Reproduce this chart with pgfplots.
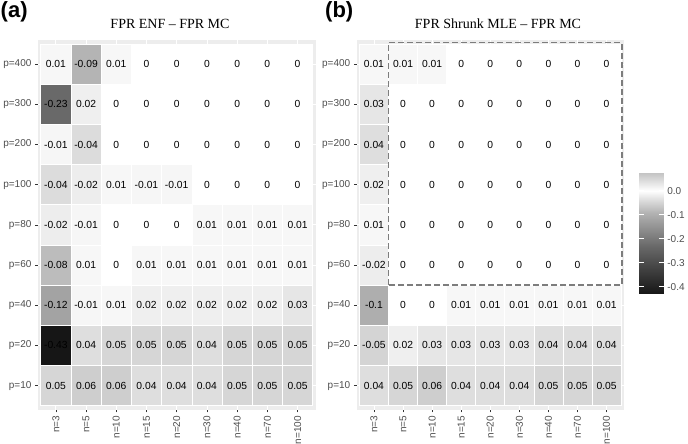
\documentclass[border=0pt]{standalone}
\usepackage{fontspec}
\setmainfont{Liberation Sans}
\newfontfamily\titlefont{Liberation Serif}
\usepackage{pgfplots}
\usepackage{pgfplotstable}
\pgfplotsset{compat=1.18}
\definecolor{panelbg}{RGB}{237,237,237}
\definecolor{ticktext}{RGB}{77,77,77}
\definecolor{tickline}{RGB}{51,51,51}
\definecolor{boxdash}{RGB}{125,125,125}

% x: 0..8 = n=3..n=100, y: 0..8 = p=10..p=400
\pgfplotstableread[row sep=\\]{
x y v\\
0 0 0.05\\ 1 0 0.06\\ 2 0 0.06\\ 3 0 0.04\\ 4 0 0.04\\ 5 0 0.04\\ 6 0 0.05\\ 7 0 0.05\\ 8 0 0.05\\
0 1 -0.43\\ 1 1 0.04\\ 2 1 0.05\\ 3 1 0.05\\ 4 1 0.05\\ 5 1 0.04\\ 6 1 0.05\\ 7 1 0.05\\ 8 1 0.05\\
0 2 -0.12\\ 1 2 -0.01\\ 2 2 0.01\\ 3 2 0.02\\ 4 2 0.02\\ 5 2 0.02\\ 6 2 0.02\\ 7 2 0.02\\ 8 2 0.03\\
0 3 -0.08\\ 1 3 0.01\\ 2 3 0\\ 3 3 0.01\\ 4 3 0.01\\ 5 3 0.01\\ 6 3 0.01\\ 7 3 0.01\\ 8 3 0.01\\
0 4 -0.02\\ 1 4 -0.01\\ 2 4 0\\ 3 4 0\\ 4 4 0\\ 5 4 0.01\\ 6 4 0.01\\ 7 4 0.01\\ 8 4 0.01\\
0 5 -0.04\\ 1 5 -0.02\\ 2 5 0.01\\ 3 5 -0.01\\ 4 5 -0.01\\ 5 5 0\\ 6 5 0\\ 7 5 0\\ 8 5 0\\
0 6 -0.01\\ 1 6 -0.04\\ 2 6 0\\ 3 6 0\\ 4 6 0\\ 5 6 0\\ 6 6 0\\ 7 6 0\\ 8 6 0\\
0 7 -0.23\\ 1 7 0.02\\ 2 7 0\\ 3 7 0\\ 4 7 0\\ 5 7 0\\ 6 7 0\\ 7 7 0\\ 8 7 0\\
0 8 0.01\\ 1 8 -0.09\\ 2 8 0.01\\ 3 8 0\\ 4 8 0\\ 5 8 0\\ 6 8 0\\ 7 8 0\\ 8 8 0\\
}\enfdiff

\pgfplotstableread[row sep=\\]{
x y v\\
0 0 0.04\\ 1 0 0.05\\ 2 0 0.06\\ 3 0 0.04\\ 4 0 0.04\\ 5 0 0.04\\ 6 0 0.05\\ 7 0 0.05\\ 8 0 0.05\\
0 1 -0.05\\ 1 1 0.02\\ 2 1 0.03\\ 3 1 0.03\\ 4 1 0.03\\ 5 1 0.03\\ 6 1 0.04\\ 7 1 0.04\\ 8 1 0.04\\
0 2 -0.1\\ 1 2 0\\ 2 2 0\\ 3 2 0.01\\ 4 2 0.01\\ 5 2 0.01\\ 6 2 0.01\\ 7 2 0.01\\ 8 2 0.01\\
0 3 -0.02\\ 1 3 0\\ 2 3 0\\ 3 3 0\\ 4 3 0\\ 5 3 0\\ 6 3 0\\ 7 3 0\\ 8 3 0\\
0 4 0.01\\ 1 4 0\\ 2 4 0\\ 3 4 0\\ 4 4 0\\ 5 4 0\\ 6 4 0\\ 7 4 0\\ 8 4 0\\
0 5 0.02\\ 1 5 0\\ 2 5 0\\ 3 5 0\\ 4 5 0\\ 5 5 0\\ 6 5 0\\ 7 5 0\\ 8 5 0\\
0 6 0.04\\ 1 6 0\\ 2 6 0\\ 3 6 0\\ 4 6 0\\ 5 6 0\\ 6 6 0\\ 7 6 0\\ 8 6 0\\
0 7 0.03\\ 1 7 0\\ 2 7 0\\ 3 7 0\\ 4 7 0\\ 5 7 0\\ 6 7 0\\ 7 7 0\\ 8 7 0\\
0 8 0.01\\ 1 8 0.01\\ 2 8 0.01\\ 3 8 0\\ 4 8 0\\ 5 8 0\\ 6 8 0\\ 7 8 0\\ 8 8 0\\
}\mlediff

\pgfplotsset{
  colormap={fprdiff}{rgb255(0)=(22,22,22) rgb255(200)=(105,105,105) rgb255(310)=(163,163,163)
    rgb255(340)=(180,180,180) rgb255(390)=(220,220,220) rgb255(430)=(255,255,255)
    rgb255(480)=(214,214,214) rgb255(505)=(195,195,195)},
  panelframe/.style={
    scale only axis, height=369.7pt, anchor=south west,
    xmin=-0.6, xmax=8.6, ymin=-0.6, ymax=8.6,
  },
  heat/.style={
    panelframe,
    axis background/.style={fill=panelbg},
    axis line style={draw=none},
    xmajorgrids, ymajorgrids, grid style={white, line width=0.8pt},
    xtick={0,...,8}, ytick={0,...,8},
    xticklabels={n=3,n=5,n=10,n=15,n=20,n=30,n=40,n=70,n=100},
    yticklabels={p=10,p=20,p=40,p=60,p=80,p=100,p=200,p=300,p=400},
    tick align=outside, xtick pos=lower, ytick pos=lower,
    major tick length=2.75pt,
    tick style={tickline, line width=0.5pt},
    tick label style={font=\fontsize{10}{12}\selectfont, text=ticktext},
    x tick label style={rotate=90, anchor=east},
    point meta min=-0.43, point meta max=0.075,
    colormap name=fprdiff,
  },
  toplayer/.style={panelframe, hide axis},
  tiles/.style={matrix plot*, mesh/cols=9, point meta=explicit, draw=white, line width=0.6pt},
  tilenums/.style={draw=none, mark=none, nodes near coords,
    point meta=explicit symbolic,
    every node near coord/.style={anchor=center, font=\fontsize{10.3}{12}\selectfont, text=black}},
}

\begin{document}
\begin{tikzpicture}
\useasboundingbox (0pt,0pt) rectangle (688pt,444pt);

% colour key (drawn first, before any data plot)
\begin{axis}[hide axis, scale only axis, width=1pt, height=1pt,
  at={(630.6pt,271.3pt)}, anchor=north west,
  xmin=0, xmax=1, ymin=0, ymax=1,
  colormap name=fprdiff, point meta min=-0.43, point meta max=0.075,
  colorbar, colorbar/width=24.7pt,
  colorbar style={
    at={(parent axis.north west)}, anchor=north west,
    scale only axis, width=24.7pt, height=121.3pt,
    ytick={-0.4,-0.3,-0.2,-0.1,0}, yticklabels={-0.4,-0.3,-0.2,-0.1,0.0},
    tick align=inside, ytick pos=both, yticklabel pos=right,
    major tick length=5pt, tick style={white, line width=0.6pt},
    axis line style={draw=none},
    yticklabel style={font=\fontsize{10}{12}\selectfont, text=ticktext},
  }]
\end{axis}

% panel (a)
\begin{axis}[heat, at={(37.7pt,34.3pt)}, width=278pt]
\addplot[tiles] table[x=x, y=y, meta=v] {\enfdiff};
\end{axis}
\begin{axis}[toplayer, at={(37.7pt,34.3pt)}, width=278pt]
\addplot[tilenums] table[x=x, y=y, meta=v] {\enfdiff};
\end{axis}

% panel (b)
\begin{axis}[heat, at={(356.5pt,34.3pt)}, width=267.5pt]
\addplot[tiles] table[x=x, y=y, meta=v] {\mlediff};
\end{axis}
\begin{axis}[toplayer, at={(356.5pt,34.3pt)}, width=267.5pt]
\addplot[boxdash, line width=1.3pt, dash pattern=on 6pt off 3pt, mark=none, point meta=none]
  coordinates {(0.5,2.5) (0.5,8.53) (8.53,8.53) (8.53,2.5)} -- cycle;
\addplot[tilenums] table[x=x, y=y, meta=v] {\mlediff};
\end{axis}

\node[anchor=north west, inner sep=0pt, font=\bfseries\fontsize{22}{24}\selectfont] at (0.5pt,443pt) {(a)};
\node[anchor=north west, inner sep=0pt, font=\bfseries\fontsize{22}{24}\selectfont] at (325pt,443pt) {(b)};
\node[font=\titlefont\fontsize{14}{16}\selectfont] at (170pt,420pt) {FPR ENF – FPR MC};
\node[font=\titlefont\fontsize{14}{16}\selectfont] at (498pt,420pt) {FPR Shrunk MLE – FPR MC};
\end{tikzpicture}
\end{document}
